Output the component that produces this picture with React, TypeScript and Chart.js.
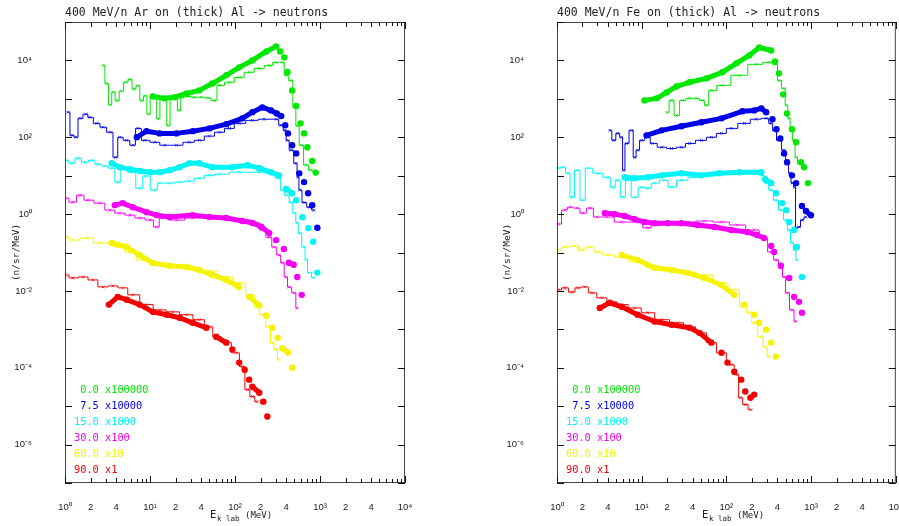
import React, { useEffect, useRef } from "react";
import { Chart, registerables } from "chart.js";
Chart.register(...registerables);

type Pt = [number, number];

// ---------------- text ----------------
const panelTitles = [
  "400 MeV/n Ar on (thick) Al -> neutrons",
  "400 MeV/n Fe on (thick) Al -> neutrons",
];
const angles = ["0.0", "7.5", "15.0", "30.0", "60.0", "90.0"];
const factors = ["x100000", "x10000", "x1000", "x100", "x10", "x1"];
const seriesColors = ["#00e800", "#0000e6", "#00f4f4", "#f400f4", "#f4f400", "#f40000"];
const xTickValues = [1, 2, 4, 10, 20, 40, 100, 200, 400, 1000, 2000, 4000, 10000];
const xMinorMantissas = [1, 2, 3, 4, 5, 6, 7, 8, 9];
const yDecadeExps = [-7, -6, -5, -4, -3, -2, -1, 0, 1, 2, 3, 4, 5];
const yLabelExps = [-6, -4, -2, 0, 2, 4];
const xTitleParts = ["E", "k lab", "(MeV)"];
const yTitle = "(n/sr/MeV)";

// ---------------- Ar on Al : experiment (dots) and simulation (histogram) ----------------
const arExp0: Pt[] = [[10.8,1160],[14.8,1030],[19.5,1100],[27,1380],[38,1660],[54,2500],[79,4100],[112,6600],[160,10000],[234,17100],[305,23000],[340,17000],[380,12000],[415,5000],[470,1660],[525,650],[590,230],[650,126],[710,55],[810,24],[890,12]];
const arSim0: Pt[] = [[2.8,7400],[3.1,2500],[3.4,700],[3.7,1500],[4.1,900],[4.6,1600],[5.2,2700],[5.8,3200],[6.5,1800],[7.2,2200],[8.0,900],[8.8,1200],[9.6,400],[10.5,1200],[11.5,1000],[12.5,300],[13.7,1100],[15,1000],[16.5,200],[18,1000],[20,1100],[22,500],[24,1100],[28,1150],[33,1100],[40,1100],[48,1050],[57,900],[66,2240],[86,2700],[112,3600],[147,4900],[193,6200],[253,7400],[305,8900],[360,8900],[400,4100],[460,3000],[500,600],[540,200],[600,62],[685,19],[780,14],[890,12]];
const arExp1: Pt[] = [[7.0,100],[9.1,144],[13,126],[20.5,126],[31.8,144],[50,170],[79,219],[122,310],[160,450],[210,600],[265,500],[310,417],[350,355],[390,205],[420,126],[470,62],[525,38],[570,11.5],[650,6.8],[725,3.5],[810,1.7],[930,0.44]];
const arSim1: Pt[] = [[1.08,450],[1.21,112],[1.35,100],[1.5,310],[1.76,400],[1.96,330],[2.37,230],[2.8,182],[3.4,135],[3.96,30],[4.4,100],[5.3,83],[6.3,62],[7.2,170],[8.7,83],[11.4,74],[14.9,62],[20.5,62],[29,74],[38,83],[50,107],[66,135],[86,170],[112,230],[160,275],[220,295],[305,295],[350,205],[390,151],[410,83],[460,46],[525,21],[550,9.1],[580,4.2],[650,2.0],[750,1.5],[850,1.26]];
const arExp2: Pt[] = [[3.55,21],[4.4,16.6],[5.8,14.8],[7.6,13.2],[10,12.3],[13,12.3],[17,13.8],[22.3,16.6],[29,21],[38,21],[54,16.6],[93,16.6],[140,18.7],[193,15.7],[265,12.3],[330,10.2],[400,4.5],[470,3.5],[525,2.3],[620,0.83],[730,0.43],[830,0.19],[930,0.03]];
const arSim2: Pt[] = [[1.03,25],[1.2,21],[1.42,28.5],[1.72,22.4],[2.07,25],[2.44,20],[2.94,17.8],[3.55,15.7],[4.2,6.8],[4.9,15.7],[6.1,12.3],[7.6,4.7],[8.9,9.8],[11.4,4.2],[13,6.4],[17,6.4],[22.3,6.8],[29,7.2],[38,8.6],[50,10.2],[66,11],[112,12.3],[193,12.3],[265,11.6],[330,8.6],[360,4.2],[410,3.1],[460,2.0],[500,1.07],[540,0.59],[570,0.32],[650,0.14],[685,0.065],[740,0.03],[850,0.022]];
const arExp3: Pt[] = [[3.86,1.71],[4.77,1.93],[6.27,1.51],[9.15,1.12],[12,0.94],[17,0.84],[31.8,0.94],[50,0.84],[79,0.79],[122,0.66],[160,0.59],[204,0.47],[253,0.32],[305,0.21],[376,0.123],[430,0.054],[490,0.048],[540,0.023],[610,0.0079]];
const arSim3: Pt[] = [[1.0,2.6],[1.24,2.04],[1.5,3.1],[1.86,2.3],[2.57,1.93],[3.37,1.27],[4.4,1.06],[5.8,0.94],[7.6,0.79],[10,0.7],[12,0.46],[13.7,0.79],[20.5,0.7],[31.8,0.79],[50,0.84],[79,0.79],[135,0.7],[178,0.59],[210,0.385],[253,0.25],[290,0.138],[330,0.086],[360,0.054],[400,0.023],[430,0.0126],[500,0.0089],[540,0.0036]];
const arExp4: Pt[] = [[3.56,0.177],[5.33,0.139],[7.55,0.086],[10.8,0.053],[17,0.045],[27,0.042],[38,0.035],[54,0.026],[79,0.0193],[112,0.0127],[147,0.007],[193,0.0042],[233,0.0023],[275,0.0011],[318,0.0006],[360,0.00032],[420,0.00025],[470,0.0001]];
const arSim4: Pt[] = [[1.0,0.253],[1.24,0.211],[1.81,0.238],[2.57,0.177],[3.37,0.177],[4.4,0.139],[5.8,0.103],[8.2,0.064],[13,0.047],[20.5,0.042],[31.8,0.04],[50,0.033],[79,0.0231],[112,0.0162],[160,0.0079],[178,0.00385],[210,0.0024],[253,0.00116],[270,0.00045],[305,0.0003],[330,0.000162]];
const arExp5: Pt[] = [[3.28,0.0044],[4.18,0.007],[5.33,0.0059],[7.55,0.0044],[10.8,0.00285],[15.7,0.0024],[22.3,0.002],[31.8,0.00148],[46,0.0011],[60,0.00064],[79,0.00045],[93,0.0003],[112,0.000136],[130,0.000089],[147,0.000049],[160,0.000032],[193,0.0000224],[215,0.0000131],[240,0.0000054]];
const arSim5: Pt[] = [[1.0,0.026],[1.24,0.0218],[1.63,0.0231],[2.13,0.0193],[2.79,0.0127],[3.66,0.0135],[4.78,0.012],[6.27,0.0079],[9.15,0.0044],[13,0.0032],[18.4,0.00285],[27,0.0024],[38,0.00178],[50,0.00116],[60,0.00064],[79,0.00045],[104,0.000245],[122,0.000107],[140,0.0000269],[160,0.0000178],[182,0.0000131]];

// ---------------- Fe on Al ----------------
const feExp0: Pt[] = [[10.8,910],[15,1030],[19.7,1470],[25.8,2110],[36.7,2700],[58,3400],[89.5,4900],[131,8400],[186,13500],[244,21700],[338,18100],[375,9400],[418,4600],[468,1310],[520,417],[595,162],[665,74],[760,22.4],[825,16.6],[920,6.4]];
const feSim0: Pt[] = [[19.7,447],[22.5,910],[25.8,370],[30.4,910],[36.7,1030],[44,1030],[52,910],[58,680],[66,1660],[89.5,2240],[142,4100],[225,7900],[320,8900],[385,7900],[418,3000],[480,1870],[510,680],[550,310],[580,151],[630,83],[665,30],[720,21]];
const feExp1: Pt[] = [[11.4,112],[17.2,151],[29.4,193],[50.7,245],[87.5,310],[154,473],[213,500],[258,565],[295,447],[350,295],[390,162],[433,93],[480,38],[520,22.4],[595,10.2],[665,6.4],[780,1.62],[870,1.2],[995,0.93]];
const feSim1: Pt[] = [[4.2,151],[4.7,83],[5.2,126],[5.8,100],[6.1,13.8],[6.6,69],[7.6,151],[8.3,30],[8.9,46],[10,83],[11.8,100],[13.5,69],[17.2,55],[22.5,51],[29.4,55],[36.7,69],[50.7,83],[66.5,100],[87.5,126],[114,170],[163,230],[225,295],[295,310],[338,230],[365,151],[418,83],[480,46],[520,21],[565,11.6],[595,6.4],[645,5.0],[665,0.44],[720,0.46],[780,0.7],[870,0.84]];
const feExp2: Pt[] = [[6.3,9.1],[8.25,8.6],[11.8,9.1],[17.2,10.2],[29.4,11.6],[50.7,10.2],[82.6,11.6],[142,12.3],[258,12.3],[287,8.1],[338,6.4],[385,3.5],[455,1.93],[510,1.27],[550,0.62],[630,0.385],[680,0.139],[780,0.023]];
const feSim2: Pt[] = [[1.03,15.7],[1.18,16.6],[1.35,11.6],[1.5,2.75],[1.72,13.8],[2.02,2.3],[2.3,15.7],[3.04,11.6],[3.98,9.1],[4.55,5.0],[5.2,7.6],[6.0,2.75],[6.85,7.6],[8.25,2.75],[10,5.0],[11.8,4.7],[14.2,6.4],[18.6,7.6],[22.5,5.0],[29.4,7.6],[42,9.1],[66.5,10.2],[103,11.6],[163,12.3],[225,11.6],[265,10.2],[295,6.4],[338,4.2],[385,2.3],[440,1.27],[510,0.7],[550,0.385],[595,0.178],[645,0.116],[680,0.064]];
const feExp3: Pt[] = [[3.67,1.06],[4.8,1.0],[6.3,0.89],[8.25,0.74],[10.8,0.62],[14.2,0.58],[20.2,0.58],[29.4,0.58],[45.5,0.52],[72,0.46],[114,0.385],[177,0.34],[230,0.285],[278,0.238],[338,0.148],[365,0.103],[440,0.045],[550,0.0218],[630,0.007],[720,0.0052],[780,0.0027]];
const feSim3: Pt[] = [[1.03,0.55],[1.24,1.27],[1.42,1.51],[1.72,1.43],[2.02,1.06],[2.45,1.43],[2.95,0.84],[3.87,0.84],[5.8,0.62],[8.95,0.62],[11.8,0.44],[14.2,0.52],[22.5,0.58],[34.7,0.62],[55,0.66],[87.5,0.62],[134,0.52],[213,0.385],[278,0.238],[338,0.103],[385,0.064],[440,0.04],[480,0.0231],[520,0.0089],[595,0.0032],[665,0.0016]];
const feExp4: Pt[] = [[5.8,0.086],[8.95,0.064],[14.2,0.04],[22.5,0.035],[34.7,0.0295],[55,0.0218],[87.5,0.0143],[124,0.0079],[163,0.0044],[213,0.0024],[243,0.00148],[295,0.00098],[338,0.00045],[385,0.000195]];
const feSim4: Pt[] = [[1.03,0.116],[1.24,0.139],[1.63,0.148],[1.97,0.116],[2.45,0.139],[3.04,0.103],[3.98,0.086],[5.8,0.076],[8.95,0.057],[14.2,0.04],[22.5,0.035],[34.7,0.031],[55,0.026],[87.5,0.0162],[124,0.0107],[163,0.00385],[186,0.0027],[213,0.00148],[258,0.00064],[287,0.00035],[320,0.000195]];
const feExp5: Pt[] = [[3.2,0.0036],[4.2,0.0049],[5.8,0.00385],[8.95,0.0024],[14.2,0.0016],[22.5,0.00132],[36.7,0.0011],[48,0.00081],[66.5,0.00045],[87.5,0.000245],[103,0.000136],[124,0.000079],[150,0.000049],[167,0.000024],[192,0.0000166],[213,0.00002]];
const feSim5: Pt[] = [[1.03,0.0107],[1.24,0.012],[1.5,0.0093],[1.77,0.012],[2.13,0.0127],[2.58,0.0089],[3.38,0.0066],[4.43,0.0052],[5.8,0.0044],[8.25,0.0036],[11.8,0.0027],[17.2,0.00178],[26.5,0.00148],[36.7,0.00116],[50.7,0.00081],[66.5,0.00045],[87.5,0.000245],[114,0.00012],[134,0.000066],[145,0.0000166],[167,0.000011],[195,0.0000081]];

const arExps = [arExp0, arExp1, arExp2, arExp3, arExp4, arExp5];
const arSims = [arSim0, arSim1, arSim2, arSim3, arSim4, arSim5];
const feExps = [feExp0, feExp1, feExp2, feExp3, feExp4, feExp5];
const feSims = [feSim0, feSim1, feSim2, feSim3, feSim4, feSim5];

const MONO = "'DejaVu Sans Mono', monospace";
const SANS = "'Liberation Sans', Arial, sans-serif";

const SUP: Record<string, string> = {
  "0": "\u2070", "1": "\u00b9", "2": "\u00b2", "3": "\u00b3", "4": "\u2074",
  "5": "\u2075", "6": "\u2076", "7": "\u2077", "8": "\u2078", "9": "\u2079", "-": "\u207b",
};
const pow10Label = (e: number) => "10" + String(e).split("").map((c) => SUP[c] ?? c).join("");
const xTickLabel = (v: number) => {
  const e = Math.floor(Math.log10(v) + 1e-9);
  const m = Math.round(v / Math.pow(10, e));
  return m === 1 ? pow10Label(e) : String(m);
};

type PanelProps = {
  index: number;
  width: number;
  yAxisWidth: number;
  padRight: number;
  yTitlePad: number;
  exps: Pt[][];
  sims: Pt[][];
};

function Panel({ index, width, yAxisWidth, padRight, yTitlePad, exps, sims }: PanelProps) {
  const ref = useRef<HTMLCanvasElement>(null);
  useEffect(() => {
    const canvas = ref.current;
    if (!canvas) return;
    const datasets: any[] = [];
    exps.forEach((pts, i) => {
      const c = seriesColors[i];
      datasets.push({
        label: `exp ${angles[i]}`,
        data: pts.map(([x, y]) => ({ x, y })),
        borderColor: c,
        backgroundColor: c,
        borderWidth: 5,
        borderCapStyle: "round",
        borderJoinStyle: "round",
        pointRadius: 3.2,
        pointHoverRadius: 3.2,
        pointBackgroundColor: c,
        pointBorderWidth: 0,
        tension: 0,
        fill: false,
        order: 0,
        segment: {
          borderColor: (ctx: any) => {
            const dx = Math.abs(ctx.p1.x - ctx.p0.x);
            const dy = Math.abs(ctx.p1.y - ctx.p0.y);
            return dx < 24 && dy < dx * 0.9 ? c : "rgba(0,0,0,0)";
          },
        },
      });
    });
    sims.forEach((pts, i) => {
      const c = seriesColors[i];
      datasets.push({
        label: `sim ${angles[i]}`,
        data: pts.map(([x, y]) => ({ x, y })),
        borderColor: c,
        backgroundColor: c,
        borderWidth: 1,
        stepped: "middle",
        pointStyle: "crossRot",
        pointRadius: 2,
        pointHoverRadius: 2,
        pointBorderColor: c,
        pointBorderWidth: 0.7,
        fill: false,
        order: 1,
      });
    });

    const framePlugin = {
      id: "frameAndNotes",
      afterDraw(chart: any) {
        const { ctx, chartArea: a, scales } = chart;
        const xs = scales.x;
        const ys = scales.y;
        ctx.save();
        ctx.strokeStyle = "#444";
        ctx.lineWidth = 1;
        ctx.strokeRect(a.left + 0.5, a.top + 0.5, a.right - a.left - 1, a.bottom - a.top - 1);
        ctx.strokeStyle = "#111";
        ctx.beginPath();
        for (let d = 0; d <= 4; d++) {
          for (const m of xMinorMantissas) {
            if (d === 4 && m > 1) break;
            const v = m * Math.pow(10, d);
            const px = Math.round(xs.getPixelForValue(v)) + 0.5;
            const len = m === 1 ? 7 : m === 2 || m === 4 ? 5 : 4;
            ctx.moveTo(px, a.bottom);
            ctx.lineTo(px, a.bottom - len);
            ctx.moveTo(px, a.top);
            ctx.lineTo(px, a.top + len);
          }
        }
        for (const e of yDecadeExps) {
          const py = Math.round(ys.getPixelForValue(Math.pow(10, e))) + 0.5;
          ctx.moveTo(a.left, py);
          ctx.lineTo(a.left + 7, py);
          ctx.moveTo(a.right, py);
          ctx.lineTo(a.right - 7, py);
        }
        ctx.stroke();

        // in-plot legend
        ctx.font = `10.3px ${MONO}`;
        ctx.textBaseline = "middle";
        ctx.textAlign = "left";
        angles.forEach((ang, i) => {
          ctx.fillStyle = seriesColors[i];
          ctx.fillText(`${ang.padStart(4, " ")} ${factors[i]}`, a.left + 9, a.top + 368 + i * 16);
        });

        // x-axis title with subscript
        ctx.fillStyle = "#222";
        ctx.font = `10.5px ${MONO}`;
        ctx.fillText(xTitleParts[0], a.left + 145, a.bottom + 32);
        ctx.font = `7.5px ${MONO}`;
        ctx.fillText(xTitleParts[1], a.left + 152, a.bottom + 36);
        ctx.font = `9px ${MONO}`;
        ctx.fillText(xTitleParts[2], a.left + 180, a.bottom + 32.5);
        ctx.restore();
      },
    };

    const chart = new Chart(canvas, {
      type: "line",
      data: { datasets },
      options: {
        animation: false,
        responsive: false,
        devicePixelRatio: 1,
        layout: { padding: { left: 0, right: padRight, top: 0, bottom: 0 } },
        plugins: {
          legend: { display: false },
          tooltip: { enabled: false },
          title: {
            display: true,
            text: panelTitles[index],
            align: "start",
            fullSize: false,
            color: "#222",
            font: { family: MONO, size: 11.5, weight: "normal" },
            padding: { top: 5.8, bottom: 2.4 },
          },
        },
        scales: {
          x: {
            type: "logarithmic",
            min: 1,
            max: 10000,
            position: "bottom",
            grid: { display: false },
            border: { display: false },
            ticks: {
              autoSkip: false,
              maxRotation: 0,
              minRotation: 0,
              padding: 11,
              color: "#222",
              font: { family: SANS, size: 9.5 },
              callback: (v: any) => xTickLabel(Number(v)),
            },
            afterBuildTicks: (s: any) => {
              s.ticks = xTickValues.map((v) => ({ value: v }));
            },
            afterFit: (s: any) => {
              s.height = 43;
              s.paddingLeft = 0;
              s.paddingRight = 0;
            },
          },
          y: {
            type: "logarithmic",
            min: 1e-7,
            max: 1e5,
            position: "left",
            grid: { display: false },
            border: { display: false },
            ticks: {
              autoSkip: false,
              padding: 25,
              color: "#222",
              font: { family: SANS, size: 9.5 },
              callback: (v: any) => {
                const e = Math.round(Math.log10(Number(v)));
                return yLabelExps.includes(e) ? pow10Label(e) : "";
              },
            },
            afterBuildTicks: (s: any) => {
              s.ticks = yDecadeExps.map((e) => ({ value: Math.pow(10, e) }));
            },
            afterFit: (s: any) => {
              s.width = yAxisWidth;
              s.paddingTop = 0;
              s.paddingBottom = 0;
            },
            title: {
              display: true,
              text: yTitle,
              color: "#222",
              font: { family: MONO, size: 9.5 },
              padding: { top: yTitlePad, bottom: 0 },
            },
          },
        },
      } as any,
      plugins: [framePlugin],
    });
    return () => chart.destroy();
  }, [index, width, yAxisWidth, padRight, yTitlePad, exps, sims]);

  return (
    <div style={{ width, height: 526 }}>
      <canvas ref={ref} width={width} height={526} style={{ display: "block" }} />
    </div>
  );
}

export default function App() {
  return (
    <div
      style={{
        position: "absolute",
        left: 0,
        top: 0,
        width: 899,
        height: 526,
        background: "#fff",
        display: "flex",
        overflow: "hidden",
      }}
    >
      <Panel index={0} width={450} yAxisWidth={65} padRight={45} yTitlePad={11.3} exps={arExps} sims={arSims} />
      <Panel index={1} width={449} yAxisWidth={107} padRight={2} yTitlePad={52.3} exps={feExps} sims={feSims} />
    </div>
  );
}
